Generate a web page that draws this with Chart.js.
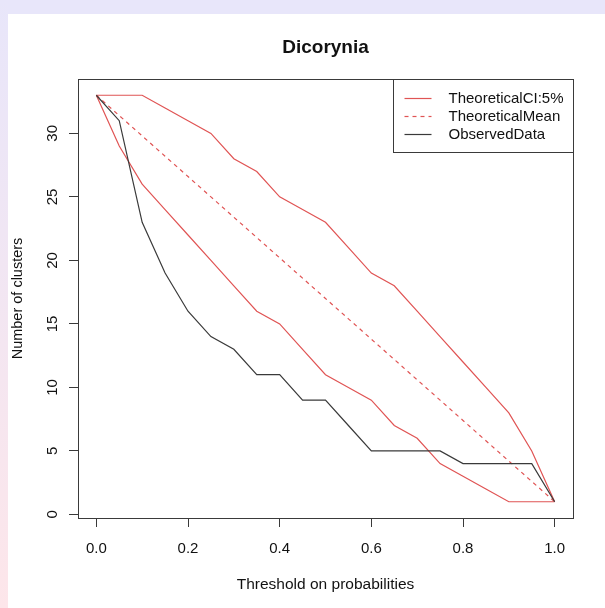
<!DOCTYPE html>
<html>
<head>
<meta charset="utf-8">
<title>Dicorynia</title>
<script src="https://cdn.jsdelivr.net/npm/chart.js@4.4.1/dist/chart.umd.min.js"></script>
<style>
  html, body { margin: 0; padding: 0; }
  body { width: 605px; height: 608px; position: relative; overflow: hidden; background: #e8e6fa; }
  #edge { position: absolute; left: 0; top: 0; width: 8px; height: 608px; background: linear-gradient(#e8e6fa, #fde6ea); }
  #sheet { position: absolute; left: 8px; top: 14px; right: 0; bottom: 0; background: #fff; }
  #clusters { position: absolute; left: 0; top: 0; }
</style>
</head>
<body>
<div id="edge"></div>
<div id="sheet"></div>
<canvas id="clusters" width="605" height="608"></canvas>
<script>
// threshold steps and cluster counts
const thresholds = [0, 0.05, 0.1, 0.15, 0.2, 0.25, 0.3, 0.35, 0.4, 0.45, 0.5, 0.55, 0.6, 0.65, 0.7, 0.75, 0.8, 0.85, 0.9, 0.95, 1];
const ciUpper = [33, 33, 33, 32, 31, 30, 28, 27, 25, 24, 23, 21, 19, 18, 16, 14, 12, 10, 8, 5, 1];
const ciLower = [33, 29, 26, 24, 22, 20, 18, 16, 15, 13, 11, 10, 9, 7, 6, 4, 3, 2, 1, 1, 1];
const meanClusters = [33, 31.4, 29.8, 28.2, 26.6, 25, 23.4, 21.8, 20.2, 18.6, 17, 15.4, 13.8, 12.2, 10.6, 9, 7.4, 5.8, 4.2, 2.6, 1];
const observed = [33, 31, 23, 19, 16, 14, 13, 11, 11, 9, 9, 7, 5, 5, 5, 5, 4, 4, 4, 4, 1];

const xTicks = [0, 0.2, 0.4, 0.6, 0.8, 1];
const xTickLabels = ['0.0', '0.2', '0.4', '0.6', '0.8', '1.0'];
const yTicks = [0, 5, 10, 15, 20, 25, 30];
const yTickLabels = ['0', '5', '10', '15', '20', '25', '30'];
const legendLabels = ['TheoreticalCI:5%', 'TheoreticalMean', 'ObservedData'];

const FONT = '"Liberation Sans", Arial, Helvetica, sans-serif';
const RED = 'rgb(224,84,84)';
const INK = '#3a3a3a';

Chart.defaults.font.family = FONT;
Chart.defaults.font.size = 15;
Chart.defaults.color = '#111';

function points(values) {
    return thresholds.map((t, i) => ({ x: t, y: values[i] }));
}

// box around the plot region and the rotated y tick labels
const frame = {
    id: 'frame',
    afterDraw(chart) {
        const { ctx, chartArea: a, scales: { y } } = chart;
        ctx.save();
        ctx.strokeStyle = INK;
        ctx.lineWidth = 1;
        ctx.strokeRect(Math.round(a.left) + 0.5, Math.round(a.top) + 0.5,
            Math.round(a.right - a.left), Math.round(a.bottom - a.top));

        ctx.font = '15px ' + FONT;
        ctx.fillStyle = '#111';
        ctx.textAlign = 'center';
        ctx.textBaseline = 'middle';
        y.ticks.forEach((t, i) => {
            ctx.save();
            ctx.translate(a.left - 25, y.getPixelForValue(t.value));
            ctx.rotate(-Math.PI / 2);
            ctx.fillText(yTickLabels[i], 0, 0);
            ctx.restore();
        });
        ctx.restore();
    }
};

// legend box in the top right corner of the plot
const cornerLegend = {
    id: 'cornerLegend',
    afterDraw(chart) {
        const { ctx, chartArea: a } = chart;
        ctx.save();
        ctx.font = '15px ' + FONT;
        const textW = Math.max(...legendLabels.map(t => ctx.measureText(t).width));
        const w = Math.round(55 + textW + 10), h = 73;
        const x0 = Math.round(a.right) - w + 0.5, y0 = Math.round(a.top) + 0.5;
        ctx.fillStyle = '#fff';
        ctx.fillRect(x0, y0, w, h);
        ctx.strokeStyle = INK;
        ctx.lineWidth = 1;
        ctx.strokeRect(x0, y0, w, h);

        legendLabels.forEach((label, i) => {
            const ds = chart.data.datasets.find(d => d.label === label);
            const ly = Math.round(y0 + 18.5 + i * 17.8) + 0.5;
            ctx.strokeStyle = ds.borderColor;
            ctx.lineWidth = ds.borderWidth;
            ctx.setLineDash(ds.borderDash || []);
            ctx.beginPath();
            ctx.moveTo(x0 + 11, ly);
            ctx.lineTo(x0 + 38, ly);
            ctx.stroke();
            ctx.setLineDash([]);
            ctx.fillStyle = '#111';
            ctx.textBaseline = 'middle';
            ctx.fillText(label, x0 + 55, ly);
        });
        ctx.restore();
    }
};

const ctx = document.getElementById('clusters').getContext('2d');
const chart = new Chart(ctx, {
    type: 'line',
    data: {
        datasets: [
            { label: 'ObservedData', data: points(observed), borderColor: INK, borderWidth: 1.2 },
            { label: 'TheoreticalCI:5%', data: points(ciUpper), borderColor: RED, borderWidth: 1.2 },
            { label: 'TheoreticalCI:5%', data: points(ciLower), borderColor: RED, borderWidth: 1.2 },
            { label: 'TheoreticalMean', data: points(meanClusters), borderColor: RED, borderWidth: 1.2, borderDash: [4, 4] }
        ]
    },
    options: {
        responsive: false,
        animation: false,
        layout: { padding: { left: 0, right: 32, top: 0, bottom: 0 } },
        elements: { point: { radius: 0 }, line: { tension: 0 } },
        plugins: {
            legend: { display: false },
            tooltip: { enabled: false },
            title: {
                display: true,
                text: 'Dicorynia',
                fullSize: false,
                color: '#111',
                font: { size: 19, weight: 'bold' },
                padding: { top: 36.6, bottom: 19.6 }
            }
        },
        scales: {
            x: {
                type: 'linear',
                min: -0.04,
                max: 1.04,
                afterBuildTicks: s => { s.ticks = xTicks.map(v => ({ value: v })); },
                afterFit: s => { s.height = 90; },
                border: { display: false },
                grid: { drawOnChartArea: false, drawTicks: true, tickLength: 9, color: INK },
                ticks: { padding: 13, maxRotation: 0, callback: (v, i) => xTickLabels[i] },
                title: { display: true, text: 'Threshold on probabilities', font: { size: 15.5 }, padding: { bottom: 14 } }
            },
            y: {
                type: 'linear',
                min: -0.28,
                max: 34.28,
                afterBuildTicks: s => { s.ticks = yTicks.map(v => ({ value: v })); },
                afterFit: s => { s.width = 78; },
                border: { display: false },
                grid: { drawOnChartArea: false, drawTicks: true, tickLength: 9, color: INK },
                ticks: { display: false },
                title: { display: true, text: 'Number of clusters', font: { size: 14.5 }, padding: { top: 9 } }
            }
        }
    },
    plugins: [frame, cornerLegend]
});
</script>
</body>
</html>
